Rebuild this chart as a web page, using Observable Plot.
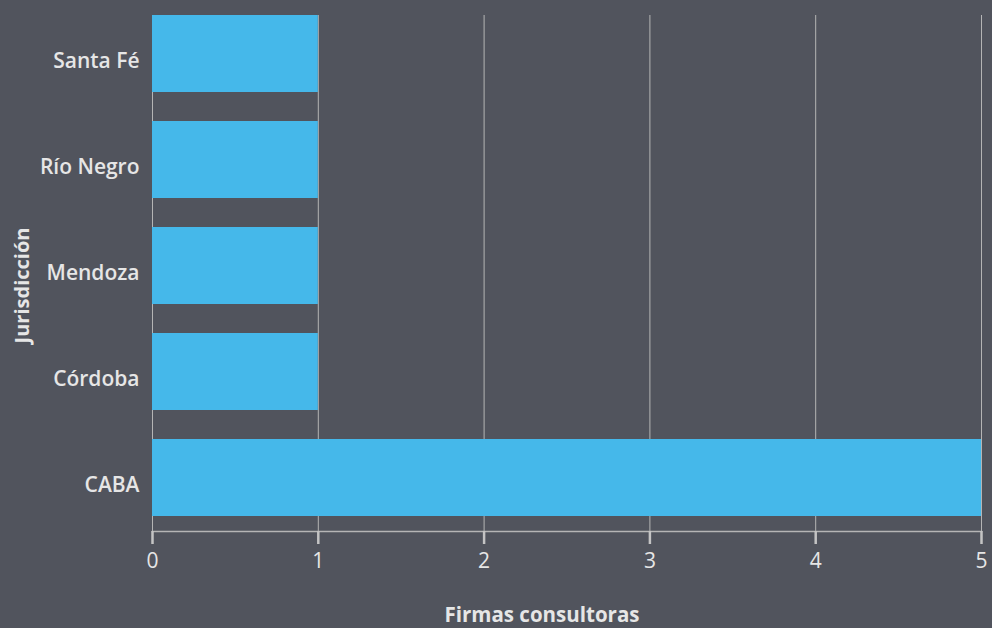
<!DOCTYPE html>
<html>
<head>
<meta charset="utf-8">
<script src="https://cdn.jsdelivr.net/npm/d3@7"></script>
<script src="https://cdn.jsdelivr.net/npm/@observablehq/plot@0.6"></script>
<style>
  html, body { margin: 0; padding: 0; background: #51545d; }
  #chart svg { display: block; }
</style>
</head>
<body>
<div id="chart"></div>
<script>
const jurisdicciones = ["Santa Fé", "Río Negro", "Mendoza", "Córdoba", "CABA"];
const firmas = [1, 1, 1, 1, 5];
const xTicks = [0, 1, 2, 3, 4, 5];

const data = jurisdicciones.map((j, i) => ({ jurisdiccion: j, firmas: firmas[i] }));

const font = "'Open Sans', 'Noto Sans', sans-serif";
const lineColor = "#b5b5b5";
const tickColor = "#c4c4c4";
const textColor = "#e6e6e6";
const chart = Plot.plot({
  width: 992,
  height: 628,
  marginLeft: 152,
  marginRight: 11,
  marginTop: 15,
  marginBottom: 97,
  style: { background: "#51545d", color: lineColor, fontFamily: font, fontSize: "20px" },
  x: { domain: [0, 5], label: null, axis: null },
  y: { domain: jurisdicciones, paddingInner: 0.27, paddingOuter: 0, insetBottom: 14, label: null, axis: null },
  marks: [
    Plot.gridX(xTicks, { stroke: lineColor, strokeOpacity: 1, strokeWidth: 1 }),
    Plot.barX(data, { x: "firmas", y: "jurisdiccion", fill: "#45b8ea" }),
    Plot.frame({ anchor: "bottom", stroke: lineColor, strokeWidth: 1.5 }),
    Plot.ruleX(xTicks, { x: d => d, insetTop: 516, insetBottom: -13, stroke: tickColor, strokeWidth: 2.5 }),
    Plot.text(xTicks, { x: d => d, text: d => String(d), frameAnchor: "bottom", lineAnchor: "middle", dy: 30, fill: textColor, fontWeight: 500, fontSize: 21 }),
    Plot.text(jurisdicciones, { y: d => d, frameAnchor: "left", textAnchor: "end", dx: -13, dy: 7, fill: textColor, fontWeight: 600, fontSize: 21 }),
    Plot.text(["Firmas consultoras"], { frameAnchor: "bottom", dy: 90, dx: -25, fill: textColor, fontWeight: 700, fontSize: 20.5 }),
    Plot.text(["Jurisdicción"], { frameAnchor: "left", textAnchor: "middle", dx: -130, dy: 12, rotate: -90, fill: textColor, fontWeight: 700, fontSize: 20 })
  ]
});
document.getElementById("chart").appendChild(chart);
</script>
</body>
</html>
